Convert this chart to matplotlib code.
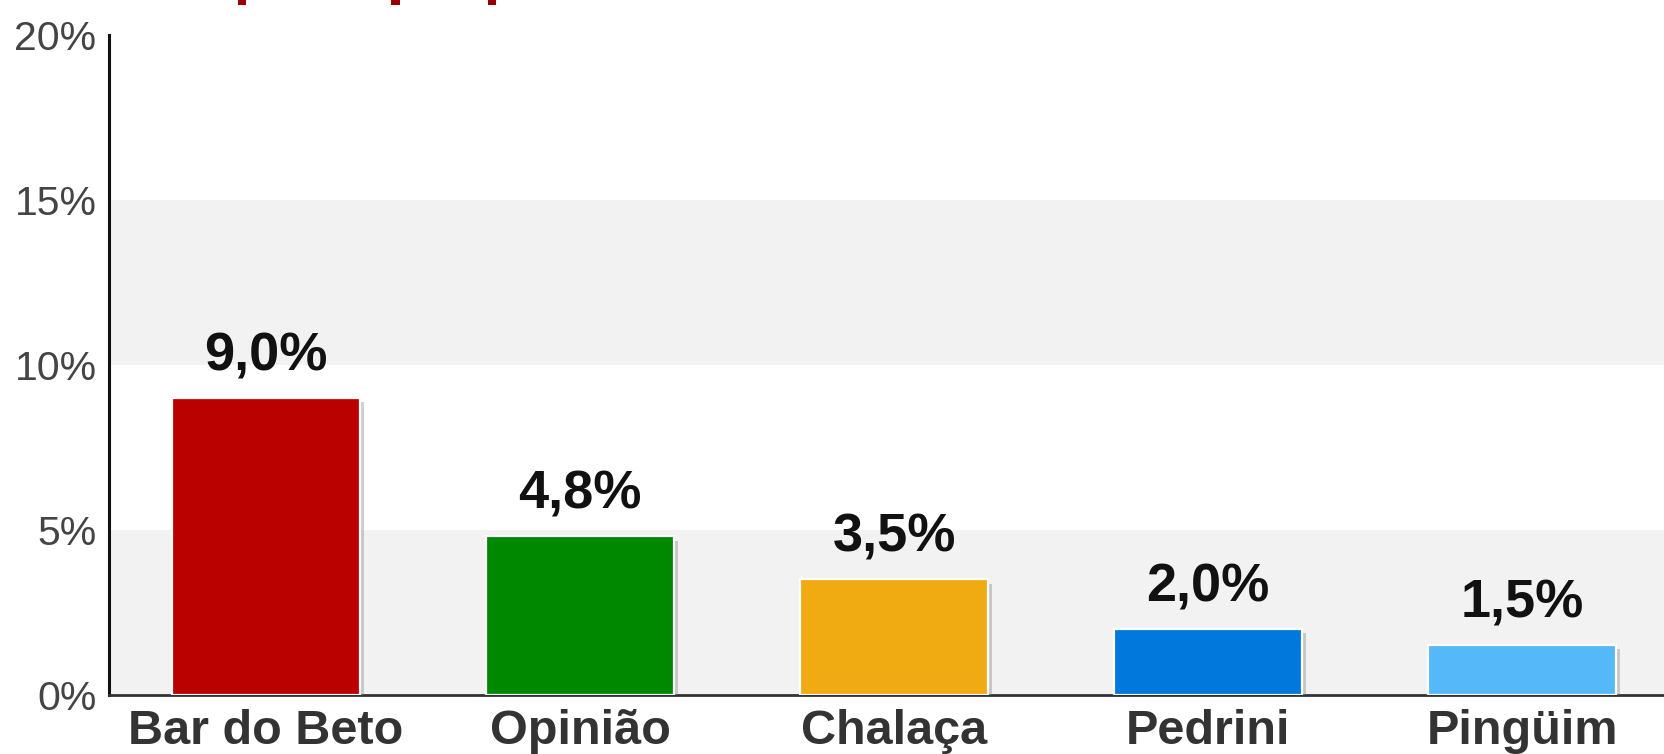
import matplotlib as mpl
from matplotlib import pyplot as plt
from matplotlib import patheffects as pe
from matplotlib.patches import Rectangle

# data
bars = ['Bar do Beto', 'Opinião', 'Chalaça', 'Pedrini', 'Pingüim']
values = [9.0, 4.8, 3.5, 2.0, 1.5]
labels = ['9,0%', '4,8%', '3,5%', '2,0%', '1,5%']
colors = ['#bb0000', '#008800', '#f0aa12', '#0078dc', '#55b9f9']
yticks = [0, 5, 10, 15, 20]
ytick_labels = ['0%', '5%', '10%', '15%', '20%']

plt.rcParams['font.family'] = ['Liberation Sans', 'DejaVu Sans']

fig = plt.figure(figsize=(16.65, 7.54), dpi=100)
ax = fig.add_axes([0.0655, 0.0785, 0.9345, 0.875])

# alternating background bands
for i in range(0, len(yticks) - 1, 2):
	ax.axhspan(yticks[i], yticks[i + 1], color='#f2f2f2', zorder=0, lw=0)

shadow = [pe.SimplePatchShadow(offset=(3, -3), shadow_rgbFace='#888888', alpha=0.4), pe.Normal()]
x = range(len(bars))
rects = ax.bar(x, values, width=0.6, color=colors, edgecolor='white', linewidth=1.6, zorder=3)
for r in rects:
	r.set_path_effects(shadow)

for xi, v, lab in zip(x, values, labels):
	ax.annotate(lab, (xi, v), xytext=(0, 12), textcoords='offset points', ha='center', va='bottom',
		fontsize=39, fontweight='bold', color='#111111', zorder=4)

ax.set_xlim(-0.5, 4.455)
ax.set_ylim(0, 20)
ax.set_yticks(yticks)
ax.set_yticklabels(ytick_labels)
ax.set_xticks(list(x))
ax.set_xticklabels(bars)
ax.tick_params(axis='y', length=0, pad=9, labelsize=29.5, labelcolor='#444444')
ax.tick_params(axis='x', length=0, pad=10.5, labelsize=35, labelcolor='#333333')
for lab in ax.get_xticklabels():
	lab.set_fontweight('bold')

for s in ['top', 'right']:
	ax.spines[s].set_visible(False)
ax.spines['left'].set_linewidth(2.2)
ax.spines['left'].set_color('#111111')
ax.spines['bottom'].set_linewidth(2.0)
ax.spines['bottom'].set_color('#333333')
ax.set_facecolor('white')

# bits of the cut-off red title at the top edge
for fx in [0.143, 0.235, 0.293]:
	fig.patches.append(Rectangle((fx, 0.993), 0.005, 0.007, transform=fig.transFigure, color='#990000', lw=0))

fig.savefig('out.png', dpi=100)
